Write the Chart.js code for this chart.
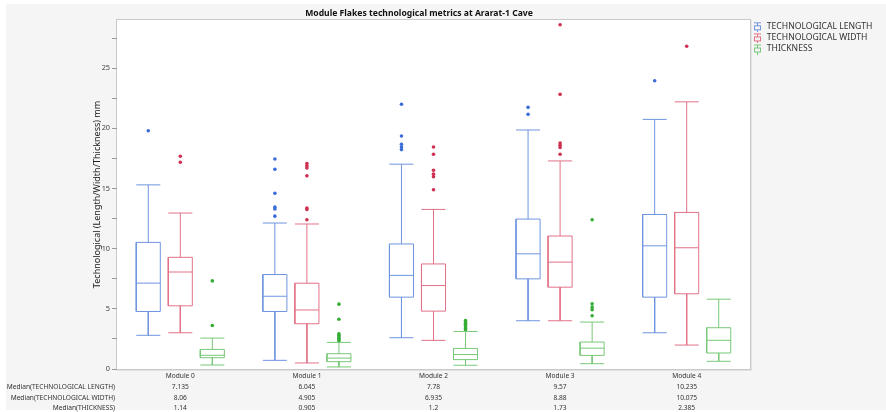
<!DOCTYPE html>
<html>
<head>
<meta charset="utf-8">
<script src="https://cdn.jsdelivr.net/npm/chart.js@4.4.1/dist/chart.umd.min.js"></script>
<style>
  html, body { margin: 0; padding: 0; background: #fff; }
  #wrap { width: 886px; height: 412px; }
</style>
</head>
<body>
<div id="wrap"><canvas id="boxChart" width="886" height="412"></canvas></div>
<script>
// groups on the x axis
var modules = ['Module 0', 'Module 1', 'Module 2', 'Module 3', 'Module 4'];

// per module: [lower whisker, Q1, median, Q3, upper whisker] (mm)
var lengthBox = [
  [2.8, 4.78, 7.135, 10.52, 15.3],
  [0.72, 4.78, 6.045, 7.85, 12.13],
  [2.6, 5.97, 7.78, 10.39, 17.02],
  [4.01, 7.49, 9.57, 12.46, 19.86],
  [3.01, 5.97, 10.235, 12.84, 20.74]
];
var widthBox = [
  [3.01, 5.25, 8.06, 9.28, 12.96],
  [0.5, 3.76, 4.905, 7.13, 12.05],
  [2.38, 4.81, 6.935, 8.73, 13.26],
  [4.01, 6.8, 8.88, 11.05, 17.29],
  [1.99, 6.25, 10.075, 13.01, 22.2]
];
var thickBox = [
  [0.33, 0.94, 1.14, 1.63, 2.57],
  [0.17, 0.61, 0.905, 1.27, 2.21],
  [0.31, 0.78, 1.2, 1.71, 3.12],
  [0.44, 1.13, 1.73, 2.24, 3.9],
  [0.64, 1.33, 2.385, 3.43, 5.8]
];

// outliers per module
var lengthOutliers = [
  [19.8],
  [17.45, 16.6, 14.6, 13.45, 13.3, 12.7],
  [22.0, 19.36, 18.67, 18.45, 18.23],
  [21.74, 21.16],
  [23.95]
];
var widthOutliers = [
  [17.68, 17.18],
  [17.07, 16.88, 16.71, 16.05, 13.37, 13.26, 12.4],
  [18.45, 17.85, 16.52, 16.19, 15.97, 14.89],
  [28.6, 22.82, 18.78, 18.59, 18.4, 17.85],
  [26.82]
];
var thickOutliers = [
  [7.32, 3.62],
  [5.39, 4.14, 2.93, 2.8, 2.68, 2.56, 2.44, 2.32],
  [4.03, 3.92, 3.81, 3.7, 3.59, 3.48, 3.37, 3.26],
  [12.4, 5.42, 5.15, 4.93, 4.42],
  []
];

var yTicks = [0, 2.5, 5, 7.5, 10, 12.5, 15, 17.5, 20, 22.5, 25, 27.5];
var rowNames = ['Median(TECHNOLOGICAL LENGTH)', 'Median(TECHNOLOGICAL WIDTH)', 'Median(THICKNESS)'];

var series = [
  { label: 'TECHNOLOGICAL LENGTH', box: lengthBox, out: lengthOutliers, line: '#6f95e0', dot: '#3a6bd6', shift: -0.253 },
  { label: 'TECHNOLOGICAL WIDTH', box: widthBox, out: widthOutliers, line: '#e27287', dot: '#cf2f50', shift: 0 },
  { label: 'THICKNESS', box: thickBox, out: thickOutliers, line: '#78c878', dot: '#35ad35', shift: 0.253 }
];

var HALF = 0.095;
var FONT = "'Noto Sans', 'Open Sans', sans-serif";
var TABLE_SIZE = 6.6, TABLE_LH = 10.7;

function boxOutline(box, shift) {
  var pts = [];
  box.forEach(function (b, i) {
    var cx = i + shift;
    var gap = { x: cx, y: null };
    pts.push({ x: cx - HALF, y: b[1] }, { x: cx + HALF, y: b[1] }, { x: cx + HALF, y: b[3] }, { x: cx - HALF, y: b[3] }, { x: cx - HALF, y: b[1] }, gap);
    pts.push({ x: cx - HALF, y: b[2] }, { x: cx + HALF, y: b[2] }, gap);
    pts.push({ x: cx, y: b[3] }, { x: cx, y: b[4] }, gap);
    pts.push({ x: cx - HALF, y: b[4] }, { x: cx + HALF, y: b[4] }, gap);
    pts.push({ x: cx, y: b[1] }, { x: cx, y: b[0] }, gap);
    pts.push({ x: cx - HALF, y: b[0] }, { x: cx + HALF, y: b[0] }, gap);
  });
  return pts;
}

function outlierPoints(out, shift) {
  var pts = [];
  out.forEach(function (vals, i) {
    vals.forEach(function (v) { pts.push({ x: i + shift, y: v }); });
  });
  return pts;
}

function legendIcon(color) {
  var c = document.createElement('canvas');
  c.width = 9; c.height = 11;
  var g = c.getContext('2d');
  g.strokeStyle = color; g.lineWidth = 1;
  g.beginPath();
  g.moveTo(1, 1.5); g.lineTo(8, 1.5);
  g.moveTo(4.5, 1.5); g.lineTo(4.5, 11);
  g.stroke();
  g.fillStyle = '#f5f5f5';
  g.fillRect(1.5, 4.5, 6, 4);
  g.strokeRect(1.5, 4.5, 6, 4);
  return c;
}

function fmt(v) { return String(v); }

var datasets = [];
series.forEach(function (s) {
  datasets.push({
    type: 'line',
    label: s.label,
    data: boxOutline(s.box, s.shift),
    borderColor: s.line,
    backgroundColor: s.line,
    borderWidth: 1,
    pointRadius: 0,
    pointHoverRadius: 0,
    pointStyle: legendIcon(s.line),
    tension: 0,
    fill: false,
    spanGaps: false
  });
});
series.forEach(function (s) {
  datasets.push({
    type: 'scatter',
    label: s.label + ' outliers',
    data: outlierPoints(s.out, s.shift),
    backgroundColor: s.dot,
    borderWidth: 0,
    pointRadius: 1.8,
    pointHoverRadius: 1.8
  });
});

var framePlugin = {
  id: 'frame',
  beforeLayout: function (chart) {
    var lg = chart.legend;
    if (lg && !lg._fixed) {
      var fit = lg.fit;
      lg.fit = function () { fit.call(this); this.width = 136; };
      lg._fixed = true;
    }
  },
  beforeDraw: function (chart) {
    var ctx = chart.ctx, a = chart.chartArea;
    ctx.save();
    ctx.fillStyle = '#ffffff';
    ctx.fillRect(0, 0, chart.width, chart.height);
    ctx.fillStyle = '#f5f5f5';
    ctx.fillRect(6, 4, chart.width - 6, chart.height - 6);
    ctx.fillStyle = '#ffffff';
    ctx.fillRect(a.left, a.top, a.right - a.left, a.bottom - a.top);
    ctx.strokeStyle = '#c9c9c9';
    ctx.lineWidth = 1;
    ctx.strokeRect(a.left - 0.5, a.top - 0.5, a.right - a.left + 1, a.bottom - a.top + 1);
    ctx.strokeStyle = '#e2e2e2';
    ctx.beginPath();
    ctx.moveTo(a.right + 1.5, a.top); ctx.lineTo(a.right + 1.5, a.bottom + 1.5); ctx.lineTo(a.left, a.bottom + 1.5);
    ctx.stroke();
    ctx.restore();
  },
  afterDraw: function (chart) {
    var ctx = chart.ctx, a = chart.chartArea, xs = chart.scales.x;
    ctx.save();
    ctx.fillStyle = '#111';
    ctx.font = 'bold 8.6px ' + FONT;
    ctx.textAlign = 'center';
    ctx.textBaseline = 'middle';
    ctx.fillText('Module Flakes technological metrics at Ararat-1 Cave', 419, 14);
    ctx.font = TABLE_SIZE + 'px ' + FONT;
    ctx.fillStyle = '#333';
    ctx.textAlign = 'right';
    var y0 = xs.top + 2 + TABLE_LH / 2;
    rowNames.forEach(function (r, k) {
      ctx.fillText(r, a.left - 2, y0 + (k + 1) * TABLE_LH);
    });
    ctx.restore();
  }
};

new Chart(document.getElementById('boxChart'), {
  type: 'line',
  data: { datasets: datasets },
  plugins: [framePlugin],
  options: {
    responsive: false,
    animation: false,
    devicePixelRatio: 1,
    events: [],
    layout: { padding: { left: 85, top: 20, right: 0, bottom: 0 } },
    plugins: {
      title: { display: false },
      tooltip: { enabled: false },
      legend: {
        position: 'right',
        align: 'start',
        labels: {
          usePointStyle: true,
          pointStyleWidth: 10,
          padding: 2.5,
          color: '#333',
          font: { family: FONT, size: 8.6 },
          filter: function (item) { return item.datasetIndex < 3; }
        }
      }
    },
    scales: {
      x: {
        type: 'linear',
        min: -0.5,
        max: 4.5,
        afterBuildTicks: function (s) { s.ticks = modules.map(function (m, i) { return { value: i }; }); },
        afterFit: function (s) { s.height = 43; },
        grid: { display: false, drawTicks: false },
        border: { display: false },
        ticks: {
          autoSkip: false,
          maxRotation: 0,
          padding: 2,
          color: '#333',
          font: { family: FONT, size: TABLE_SIZE, lineHeight: TABLE_LH / TABLE_SIZE },
          callback: function (v) {
            return [modules[v], fmt(lengthBox[v][2]), fmt(widthBox[v][2]), fmt(thickBox[v][2])];
          }
        }
      },
      y: {
        min: 0,
        max: 29,
        afterBuildTicks: function (s) { s.ticks = yTicks.map(function (v) { return { value: v }; }); },
        afterFit: function (s) { s.width = 32; },
        grid: { drawOnChartArea: false, tickLength: 5, color: '#999' },
        border: { display: false },
        ticks: {
          padding: 2,
          color: '#444',
          font: { family: FONT, size: 7.3 },
          callback: function (v) { return v % 5 === 0 ? v : ''; }
        },
        title: {
          display: true,
          text: 'Technological (Length/Width/Thickness) mm',
          color: '#222',
          font: { family: FONT, size: 9 },
          padding: { top: 6.6, bottom: 0 }
        }
      }
    }
  }
});
</script>
</body>
</html>
